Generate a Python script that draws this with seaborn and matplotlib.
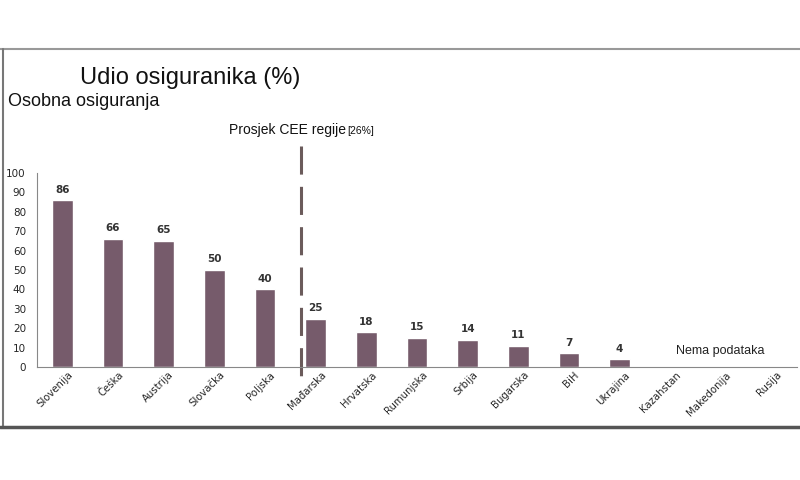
import matplotlib
matplotlib.use("Agg")
import matplotlib.pyplot as plt
from matplotlib.lines import Line2D
import matplotlib.transforms as mtrans
import seaborn as sns
import numpy as np
import pandas as pd

countries = ["Slovenija", "Češka", "Austrija", "Slovačka", "Poljska", "Mađarska",
             "Hrvatska", "Rumunjska", "Srbija", "Bugarska", "BiH", "Ukrajina",
             "Kazahstan", "Makedonija", "Rusija"]
values = [86, 66, 65, 50, 40, 25, 18, 15, 14, 11, 7, 4, np.nan, np.nan, np.nan]
yticks = [0, 10, 20, 30, 40, 50, 60, 70, 80, 90, 100]
cee_avg_pos = 4.71

title = "Udio osiguranika (%)"
subtitle = "Osobna osiguranja"
avg_label = "Prosjek CEE regije"
avg_value = "[26%]"
no_data = "Nema podataka"

sns.set_style("white")
plt.rcParams["font.family"] = ["Liberation Sans", "DejaVu Sans"]

df = pd.DataFrame({"country": countries, "value": values})

fig = plt.figure(figsize=(8, 4.8), dpi=100)
ax = fig.add_axes([37 / 800, 1 - 367 / 480, 760 / 800, 194 / 480])

bar_color = "#765b6b"
sns.barplot(data=df, x="country", y="value", order=countries, color=bar_color,
            width=0.41, saturation=1, ax=ax, errorbar=None)

ax.set_xlim(-0.5, len(countries) - 0.5)
ax.set_ylim(0, 100)
ax.set_xlabel("")
ax.set_ylabel("")
ax.set_yticks(yticks)
ax.set_yticklabels([str(v) for v in yticks], fontsize=7.5, family="DejaVu Sans")

# category boundaries as ticks, labels at centers
ax.set_xticks(np.arange(len(countries)))
ax.set_xticklabels(countries, fontsize=7.3, family="DejaVu Sans", rotation=45,
                   ha="right", va="top", rotation_mode="anchor")
ax.set_xticks(np.arange(len(countries) + 1) - 0.5, minor=True)
ax.tick_params(axis="x", which="major", length=0, pad=2)
ax.tick_params(axis="x", which="minor", length=4, width=0.8, color="#888888", direction="out")
ax.tick_params(axis="y", length=4, width=0.8, color="#888888", direction="out", pad=4)
for lab in ax.get_xticklabels():
    lab.set_transform(lab.get_transform() + mtrans.ScaledTranslation(5 / 100, 0, fig.dpi_scale_trans))

for s in ["top", "right"]:
    ax.spines[s].set_visible(False)
for s in ["left", "bottom"]:
    ax.spines[s].set_color("#888888")
    ax.spines[s].set_linewidth(0.8)

for p in ax.patches:
    h = p.get_height()
    if h is None or np.isnan(h):
        continue
    ax.annotate(f"{int(round(h))}", (p.get_x() + p.get_width() / 2, h),
                xytext=(0, 4), textcoords="offset points", ha="center", va="bottom",
                fontsize=7.5, family="DejaVu Sans", color="#333333", fontweight="semibold")

# CEE average dashed line (drawn top to bottom so the pattern starts at the top)
ax.plot([cee_avg_pos, cee_avg_pos], [113.9, -7.2], color="#6b5b5b", lw=2.2,
        dashes=(9.2, 4.0), clip_on=False, solid_capstyle="butt", dash_capstyle="butt")

ax.text(12.98, 8.2, no_data, fontsize=9, color="#222222", ha="center", va="center")

fig.text(80 / 800, 1 - 78 / 480, title, fontsize=17, ha="left", va="center", color="#111111")
fig.text(8 / 800, 1 - 101 / 480, subtitle, fontsize=13, ha="left", va="center", color="#111111")
fig.text(229 / 800, 1 - 130 / 480, avg_label, fontsize=10, ha="left", va="center", color="#111111")
fig.text(347 / 800, 1 - 131 / 480, avg_value, fontsize=7.5, ha="left", va="center", color="#111111")

# frame
fig.add_artist(Line2D([0, 1], [1 - 48.5 / 480, 1 - 48.5 / 480], color="#999999", lw=1.5))
fig.add_artist(Line2D([2.5 / 800, 2.5 / 800], [1 - 48.5 / 480, 1 - 427 / 480], color="#777777", lw=1.5))
fig.add_artist(Line2D([0, 1], [1 - 427 / 480, 1 - 427 / 480], color="#555555", lw=2.5))

fig.savefig("out.png", dpi=100)
